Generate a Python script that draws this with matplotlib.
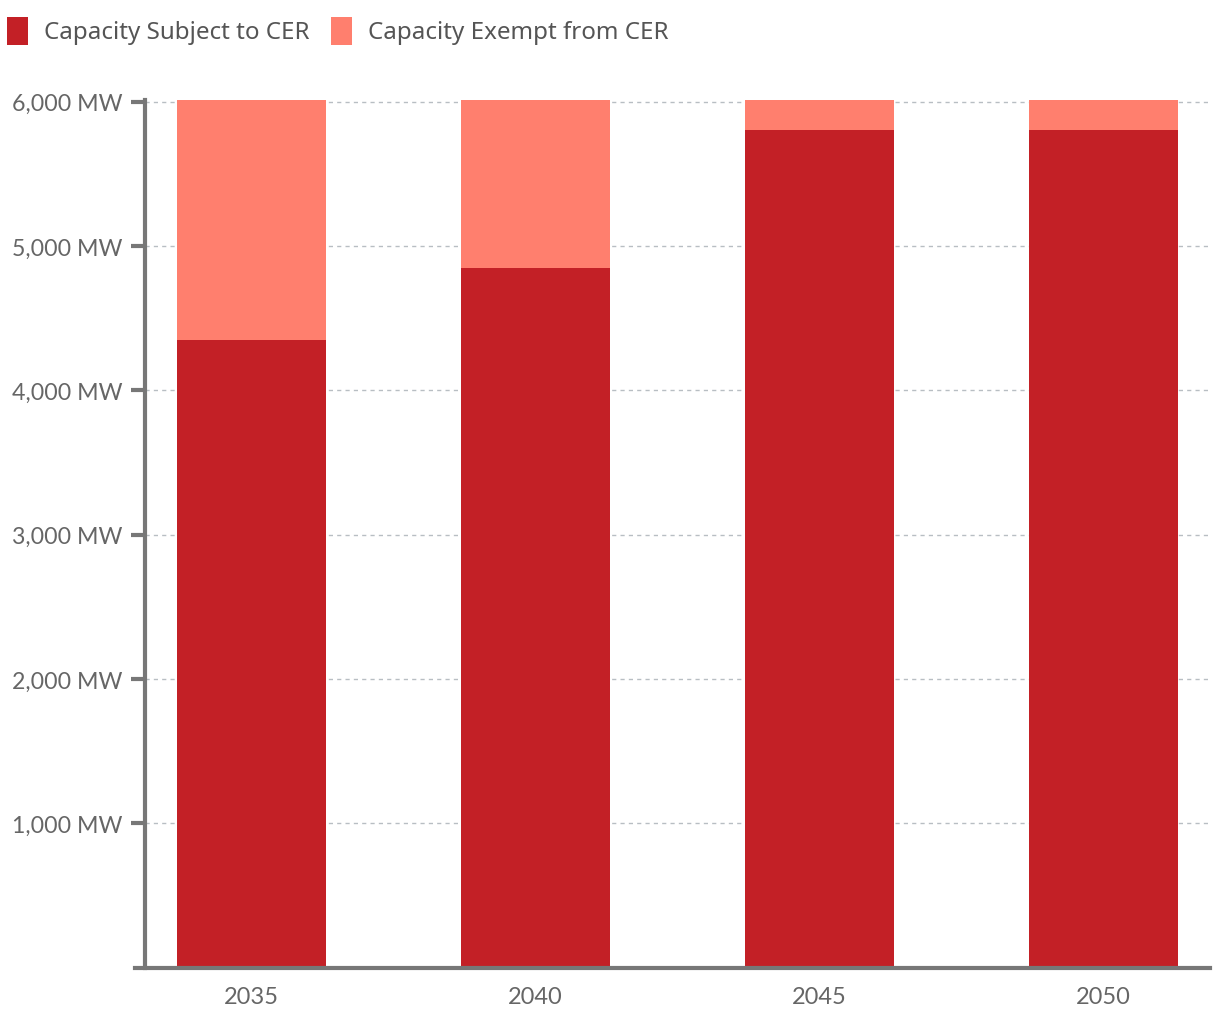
import matplotlib
matplotlib.use("Agg")
import matplotlib.pyplot as plt
from matplotlib.ticker import FuncFormatter
import numpy as np

years = ["2035", "2040", "2045", "2050"]
subject = [4350, 4850, 5805, 5805]
exempt = [1665, 1165, 210, 210]
series_labels = ["Capacity Subject to CER", "Capacity Exempt from CER"]
yticks = [1000, 2000, 3000, 4000, 5000, 6000]

c_red = "#C32026"
c_salmon = "#FF7F6E"
axis_gray = "#777777"
text_gray = "#666666"
grid_gray = "#B8BEC3"

W, H = 1220, 1020
fig = plt.figure(figsize=(W / 100, H / 100), dpi=100)

ymax = 6015
left_px, right_px = 145, 1210
bottom_px = 968.5
px_per = (bottom_px - 102.7) / 6000
top_px = bottom_px - ymax * px_per
ax = fig.add_axes([left_px / W, (H - bottom_px) / H,
                   (right_px - left_px) / W, (bottom_px - top_px) / H])

x = np.arange(len(years))
width = 0.525
ax.bar(x, subject, width, color=c_red, label=series_labels[0], zorder=3)
ax.bar(x, exempt, width, bottom=subject, color=c_salmon, label=series_labels[1], zorder=3)

ax.set_xlim(-0.375, len(years) - 1 + 0.375)
ax.set_ylim(0, ymax)
ax.set_yticks(yticks)
ax.yaxis.set_major_formatter(FuncFormatter(lambda v, p: f"{int(v):,} MW"))
ax.set_xticks(x)
ax.set_xticklabels(years)

for s in ["top", "right", "bottom"]:
    ax.spines[s].set_visible(False)
ax.spines["left"].set_color(axis_gray)
ax.spines["left"].set_linewidth(3)
ax.spines["left"].set_zorder(4)
ax.axhline(0, xmin=-10 / (right_px - left_px), xmax=1, color=axis_gray,
           lw=3, clip_on=False, zorder=4)

ax.grid(axis="y", color=grid_gray, linestyle=(0, (3, 3)), linewidth=1, zorder=0)
ax.tick_params(axis="y", length=10, width=3, color=axis_gray, labelcolor=text_gray,
               labelsize=16.7, pad=6)
ax.tick_params(axis="x", length=0, labelcolor=text_gray, labelsize=17, pad=13)
for lab in ax.get_yticklabels() + ax.get_xticklabels():
    lab.set_fontfamily("Lato")

handles, labels = ax.get_legend_handles_labels()
leg = fig.legend(handles, labels, loc="upper left", bbox_to_anchor=(7 / W, 1 - 18 / H),
                 ncol=2, frameon=False, handlelength=0.87, handleheight=1.2,
                 handletextpad=0.68, columnspacing=0.85, borderaxespad=0, borderpad=0,
                 prop={"family": "Noto Sans", "size": 17.4})
for t in leg.get_texts():
    t.set_color("#555555")
for p in leg.get_patches():
    p.set_height(28 * 72 / 100)
    p.set_y(p.get_y() - 3 * 72 / 100)

fig.savefig("out.png", dpi=100)
